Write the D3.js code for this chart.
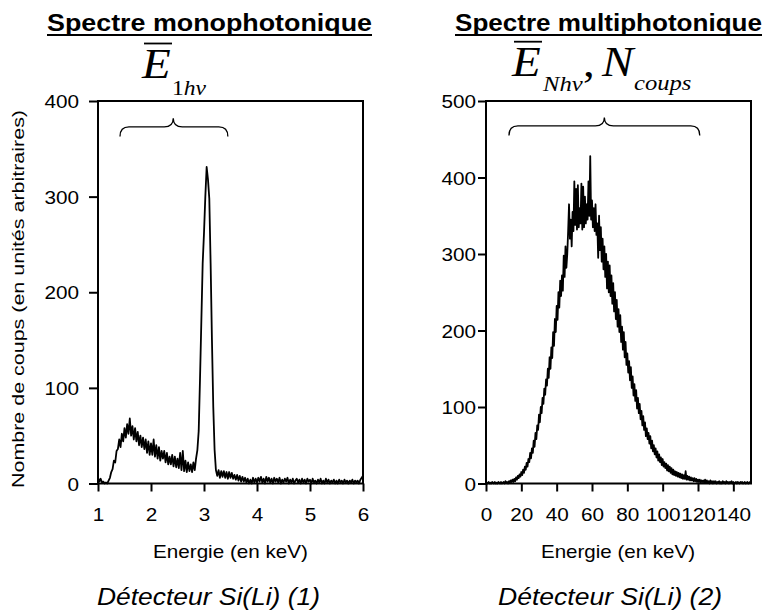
<!DOCTYPE html>
<html>
<head>
<meta charset="utf-8">
<script src="https://cdn.jsdelivr.net/npm/d3@7"></script>
<style>
  body { margin: 0; background: #fff; }
  text { font-family: "Liberation Sans", Arial, sans-serif; fill: #000; }
  .math { font-family: "Liberation Serif", "Times New Roman", serif; font-style: italic; }
</style>
</head>
<body>
<svg id="chart" width="769" height="614"></svg>
<script>
//// data

// left spectrum : channels of 0.025 keV starting at 1 keV
var monoStart = 1, monoStep = 0.025;
var monoCounts = [
  6, 2, 5, 1, 2,   0, 1, 0, 3, 6,   12, 15, 24, 22, 34,   36, 46, 38, 52, 44,
  58, 48, 62, 52, 68,   50, 60, 46, 58, 44,   54, 40, 50, 38, 48,   36, 46, 32, 44, 30,
  42, 30, 46, 28, 40,   26, 38, 24, 34, 26,   34, 22, 32, 20, 28,   20, 30, 18, 28, 17,
  26, 16, 32, 14, 34,   13, 24, 12, 22, 13,   20, 12, 22, 14, 26,   35, 55, 110, 170, 230,
  262, 300, 331, 318, 298,   230, 150, 80, 35, 14,   8, 14, 6, 13, 7,   13, 6, 12, 5, 12,
  6, 11, 5, 9, 4,   9, 3, 8, 2, 7,   2, 6, 1, 5, 0,   4, 0, 6, 1, 5,
  1, 6, 2, 7, 1,   5, 0, 7, 2, 6,   1, 5, 0, 6, 2,   5, 1, 6, 0, 4,
  1, 5, 2, 6, 0,   4, 1, 5, 0, 3,   5, 1, 4, 0, 5,   1, 4, 0, 5, 2,
  4, 0, 5, 1, 3,   0, 4, 1, 5, 0,   3, 0, 5, 1, 4,   0, 3, 1, 4, 0,
  3, 0, 4, 1, 3,   0, 4, 1, 3, 0,   3, 1, 4, 0, 3,   1, 3, 0, 4, 6,
  8
];

// right spectrum : channels of 0.5 keV starting at 0 keV
var multiStart = 0, multiStep = 0.5;
var multiCounts = [
  0, 1, 0, 2, 0, 1, 0, 2, 1, 0,
  2, 0, 1, 0, 2, 1, 0, 2, 0, 1,
  2, 0, 3, 1, 2, 0, 3, 1, 4, 2,
  5, 2, 6, 3, 8, 5, 10, 7, 12, 9,
  15, 11, 18, 14, 22, 18, 27, 22, 32, 28,
  40, 33, 46, 40, 56, 48, 66, 58, 76, 70,
  90, 80, 100, 92, 112, 104, 124, 116, 136, 128,
  150, 138, 165, 150, 178, 164, 198, 180, 215, 198,
  232, 214, 250, 230, 265, 245, 272, 252, 298, 270,
  310, 282, 300, 330, 365, 320, 345, 310, 355, 330,
  395, 338, 385, 332, 390, 335, 360, 340, 392, 332,
  388, 335, 375, 340, 365, 345, 395, 350, 428, 345,
  370, 335, 360, 330, 365, 325, 340, 295, 350, 305,
  335, 290, 320, 280, 310, 270, 300, 255, 290, 250,
  285, 245, 272, 235, 262, 225, 250, 215, 240, 205,
  228, 198, 220, 185, 205, 175, 198, 165, 185, 155,
  170, 145, 160, 135, 152, 125, 140, 115, 130, 108,
  122, 98, 112, 92, 104, 84, 95, 76, 88, 70,
  80, 62, 72, 58, 66, 52, 62, 46, 56, 42,
  50, 38, 46, 34, 42, 30, 38, 28, 34, 24,
  32, 22, 28, 20, 26, 17, 24, 16, 22, 14,
  20, 12, 18, 11, 16, 10, 15, 9, 14, 8,
  13, 7, 12, 6, 11, 6, 16, 5, 10, 5,
  9, 4, 8, 4, 7, 3, 7, 3, 6, 2,
  5, 2, 5, 1, 4, 2, 4, 1, 5, 1,
  4, 1, 3, 0, 4, 1, 3, 0, 3, 1,
  3, 0, 2, 1, 3, 0, 2, 0, 3, 1,
  2, 0, 3, 1, 2, 0, 2, 1, 3, 0,
  2, 0, 1, 2, 0, 2, 1, 0, 2, 1,
  2, 0, 1, 2, 0, 1, 2, 0, 1, 2,
  2
];

// ticks
var monoXTicks = [1, 2, 3, 4, 5, 6];
var monoYTicks = [0, 100, 200, 300, 400];
var multiXTicks = [0, 20, 40, 60, 80, 100, 120, 140];
var multiYTicks = [0, 100, 200, 300, 400, 500];

// braces [from, to, tip] in data units
var monoBrace = [1.415, 3.45, 2.42];
var multiBrace = [13, 121, 67];

var titles = ["Spectre monophotonique", "Spectre multiphotonique"];
var detectors = ["Détecteur Si(Li) (1)", "Détecteur Si(Li) (2)"];
var xTitle = "Energie (en keV)";
var yTitle = "Nombre de coups (en unités arbitraires)";

//// drawing
var svg = d3.select("svg#chart");
var SX = 1.12; // text in the picture is a bit wider than normal

svg.append("rect").attr("width", 769).attr("height", 614).attr("fill", "#fff");

var xMono = d3.scaleLinear().domain([1, 6]).range([98, 363]);
var yMono = d3.scaleLinear().domain([0, 400]).range([483.5, 101]);
var xMulti = d3.scaleLinear().domain([0, 150]).range([486, 751]);
var yMulti = d3.scaleLinear().domain([0, 500]).range([483.5, 101]);

function stretched(g, x, y, str, size) {
  return g.append("text")
    .attr("transform", "translate(" + x + "," + y + ") scale(" + SX + ",1)")
    .style("font-size", size + "px")
    .text(str);
}

function panel(x, y, xTicks, yTicks, counts, start, step, yLabGap, yTickLen) {
  var g = svg.append("g");

  // x axis
  var ax = g.append("g")
    .attr("transform", "translate(0," + y.range()[0] + ")")
    .call(d3.axisBottom(x).tickValues(xTicks).tickSize(8).tickSizeOuter(0).tickFormat(d3.format("d")));
  ax.selectAll("text")
    .attr("y", 38).attr("dy", null)
    .attr("transform", "scale(" + SX + ",1)")
    .style("font-size", "18.5px");

  // y axis
  var ay = g.append("g")
    .attr("transform", "translate(" + x.range()[0] + ",0)")
    .call(d3.axisLeft(y).tickValues(yTicks).tickSize(yTickLen).tickSizeOuter(0));
  ay.selectAll("text")
    .attr("x", -(yTickLen + yLabGap) / SX)
    .attr("dy", "0.36em")
    .attr("transform", "scale(" + SX + ",1)")
    .style("font-size", "18.5px");

  g.selectAll(".tick line").attr("stroke", "#000").attr("stroke-width", 2);
  g.selectAll(".domain").remove();

  // frame
  g.append("rect")
    .attr("x", x.range()[0]).attr("y", y.range()[1])
    .attr("width", x.range()[1] - x.range()[0])
    .attr("height", y.range()[0] - y.range()[1])
    .attr("fill", "none").attr("stroke", "#000").attr("stroke-width", 2);

  // spectrum
  var line = d3.line()
    .x(function(d, i) { return x(start + i * step); })
    .y(function(d) { return y(d); });
  g.append("path")
    .datum(counts)
    .attr("d", line)
    .attr("fill", "none")
    .attr("stroke", "#000")
    .attr("stroke-width", 1.8)
    .attr("stroke-linejoin", "round");

  return g;
}

function brace(g, x, y, b, yEnd, yTip) {
  var x1 = x(b[0]), x2 = x(b[1]), xc = x(b[2]);
  var ye = y(yEnd), yt = y(yTip), ym = (ye + yt) / 2 - 0.5, r = 9;
  var p = d3.path();
  p.moveTo(x1, ye);
  p.quadraticCurveTo(x1, ym, x1 + r, ym);
  p.lineTo(xc - r, ym);
  p.quadraticCurveTo(xc, ym, xc, yt);
  p.quadraticCurveTo(xc, ym, xc + r, ym);
  p.lineTo(x2 - r, ym);
  p.quadraticCurveTo(x2, ym, x2, ye);
  g.append("path").attr("d", p.toString())
    .attr("fill", "none").attr("stroke", "#000").attr("stroke-width", 1.3);
}

var gMono = panel(xMono, yMono, monoXTicks, monoYTicks, monoCounts, monoStart, monoStep, 10, 9);
var gMulti = panel(xMulti, yMulti, multiXTicks, multiYTicks, multiCounts, multiStart, multiStep, 2, 8);

brace(gMono, xMono, yMono, monoBrace, 363, 382);
brace(gMulti, xMulti, yMulti, multiBrace, 455, 478.5);

// titles, underlined
[[titles[0], 47, 325], [titles[1], 455, 307]].forEach(function(t) {
  svg.append("text")
    .attr("x", t[1]).attr("y", 31)
    .attr("textLength", t[2]).attr("lengthAdjust", "spacingAndGlyphs")
    .style("font-size", "23px").style("font-weight", "bold")
    .text(t[0]);
  svg.append("line")
    .attr("x1", t[1]).attr("x2", t[1] + t[2])
    .attr("y1", 35).attr("y2", 35)
    .attr("stroke", "#000").attr("stroke-width", 2);
});

// x axis titles
[[xTitle, 153, 155], [xTitle, 541, 154]].forEach(function(t) {
  svg.append("text")
    .attr("x", t[1]).attr("y", 558)
    .attr("textLength", t[2]).attr("lengthAdjust", "spacingAndGlyphs")
    .style("font-size", "18.5px")
    .text(t[0]);
});

// detector captions
[[detectors[0], 97, 223], [detectors[1], 498, 224]].forEach(function(t) {
  svg.append("text")
    .attr("x", t[1]).attr("y", 605)
    .attr("textLength", t[2]).attr("lengthAdjust", "spacingAndGlyphs")
    .style("font-size", "23px").style("font-style", "italic")
    .text(t[0]);
});

// y axis title
svg.append("text")
  .attr("transform", "translate(24,299) rotate(-90)")
  .attr("text-anchor", "middle")
  .attr("textLength", 378).attr("lengthAdjust", "spacingAndGlyphs")
  .style("font-size", "16px")
  .text(yTitle);

// math labels above the plots
var m = svg.append("g").attr("class", "math-labels");

stretched(m, 142, 78, "E", 42).attr("class", "math");
m.append("line").attr("x1", 144).attr("x2", 172).attr("y1", 43.5).attr("y2", 43.5)
  .attr("stroke", "#000").attr("stroke-width", 1.8);
var s1 = stretched(m, 172, 95, "", 21).attr("class", "math");
s1.append("tspan").style("font-style", "normal").text("1");
s1.append("tspan").text("hν");

stretched(m, 512, 76, "E", 42).attr("class", "math");
m.append("line").attr("x1", 514).attr("x2", 542).attr("y1", 41.7).attr("y2", 41.7)
  .attr("stroke", "#000").attr("stroke-width", 1.8);
stretched(m, 543, 91, "Nhν", 22).attr("class", "math");
stretched(m, 583, 76, ",", 42).attr("class", "math").style("font-style", "normal");
stretched(m, 602, 76, "N", 42).attr("class", "math");
stretched(m, 634, 90, "coups", 22).attr("class", "math");
</script>
</body>
</html>
